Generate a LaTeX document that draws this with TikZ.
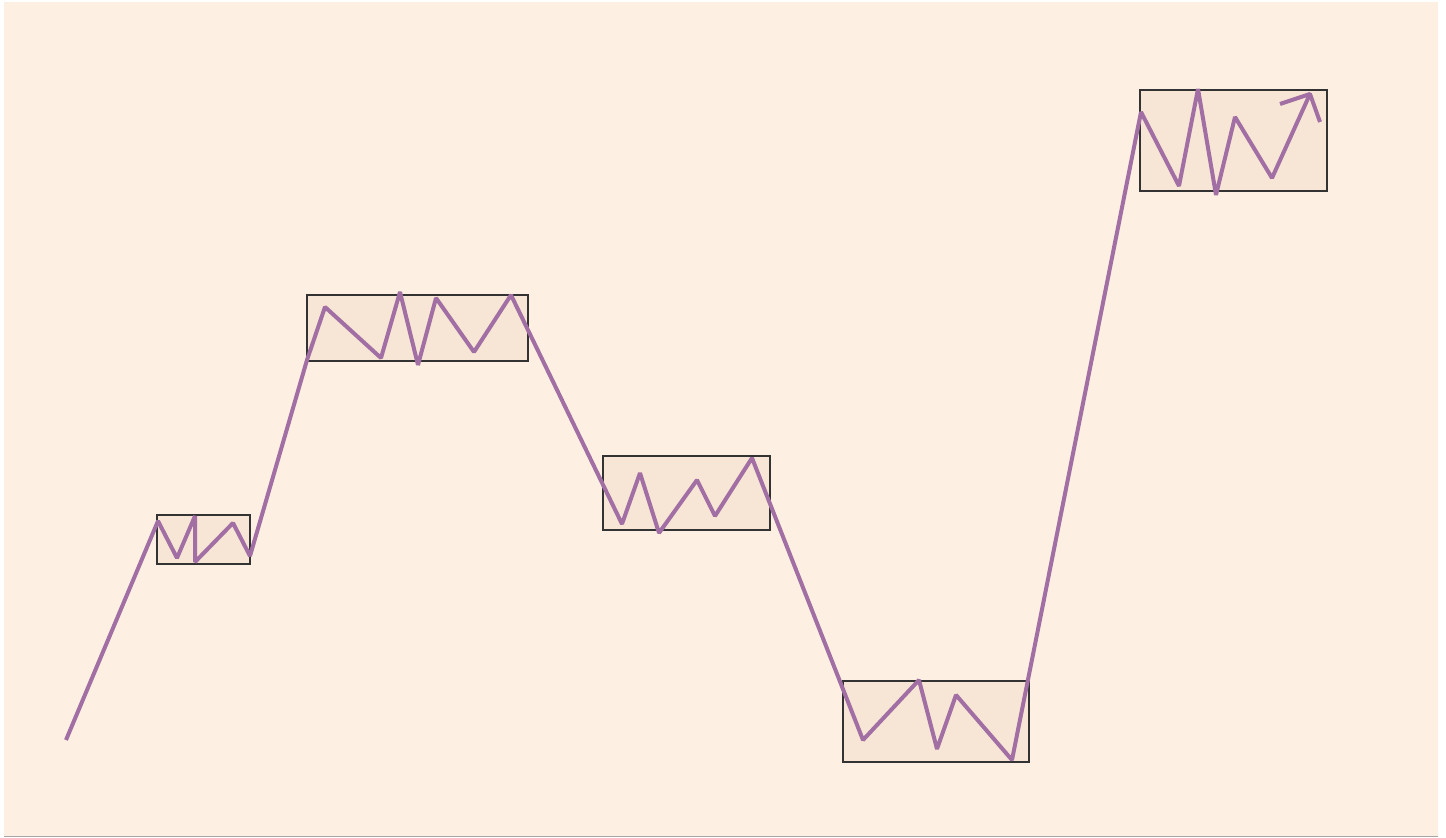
\documentclass[tikz,border=0pt]{standalone}
\usepackage{tikz}
\usetikzlibrary{calc}
\definecolor{cream}{HTML}{FDF0E2}
\definecolor{boxfill}{HTML}{F7E5D5}
\definecolor{trend}{HTML}{A26FA4}
\definecolor{rim}{HTML}{333333}

\begin{document}
\begin{tikzpicture}[x=0.5pt,y=-0.5pt,
    rangebox/.style={draw=rim,fill=boxfill,line width=0.7pt},
    zig/.style={draw=trend,line width=2pt,line join=bevel,line cap=butt}]
  \useasboundingbox (0,0) rectangle (1446,838);
  \fill[white] (0,0) rectangle (1446,838);
  \fill[cream] (4,2) rectangle (1438,836);
  \draw[gray!70,line width=0.8pt] (4,836.5) -- (1438,836.5);
  % consolidation ranges
  \path[rangebox] (157,515) rectangle (250,564);
  \path[rangebox] (307,295) rectangle (528,361);
  \path[rangebox] (603,456) rectangle (770,530);
  \path[rangebox] (843,681) rectangle (1029,762);
  \path[rangebox] (1140,90) rectangle (1327,191);
  % price path
  \coordinate (tip) at (1310,94);
  \draw[zig] (66,740) -- (158,521) -- (177,558) -- (195,516) -- (195,562)
    -- (233,523) -- (250,556)
    -- (307,360) -- (325,307) -- (381,358) -- (400,292) -- (418,365)
    -- (436,298) -- (474,352) -- (511,295)
    -- (622,524) -- (640,473) -- (659,533) -- (697,480) -- (715,516)
    -- (752,458)
    -- (863,740) -- (919,680) -- (937,749) -- (956,695) -- (1012,760)
    -- (1141,112) -- (1179,186) -- (1198,89) -- (1216,195) -- (1235,117)
    -- (1272,178) -- (tip);
  \draw[zig] (1280,104) -- (tip) -- (1320,122);
\end{tikzpicture}
\end{document}
